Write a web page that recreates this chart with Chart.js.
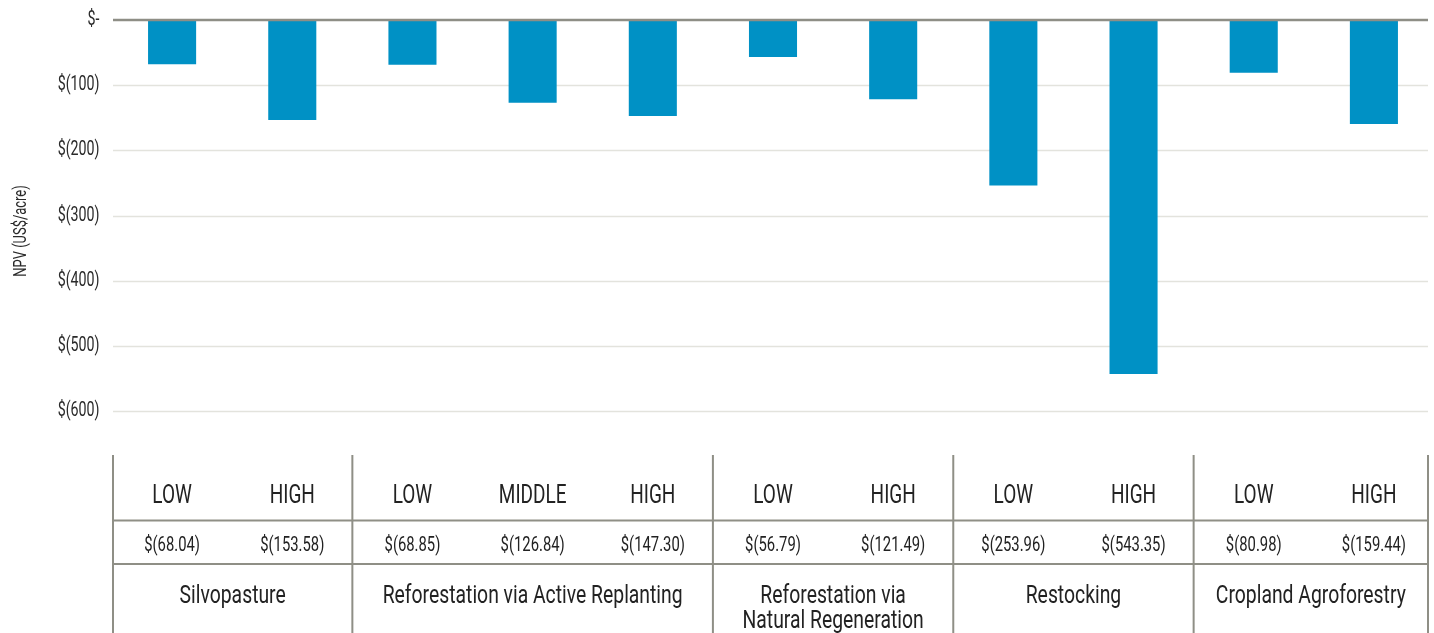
<!DOCTYPE html>
<html>
<head>
<meta charset="utf-8">
<script src="https://cdn.jsdelivr.net/npm/chart.js@4"></script>
<style>
  html, body { margin: 0; padding: 0; background: #ffffff; }
  #wrap { width: 1434px; height: 633px; position: relative; }
</style>
</head>
<body>
<div id="wrap"><canvas id="c" width="1434" height="633"></canvas></div>
<script>
// ---- data ----
const scenarios = ["LOW", "HIGH", "LOW", "MIDDLE", "HIGH", "LOW", "HIGH", "LOW", "HIGH", "LOW", "HIGH"];
const npvValues = [-68.04, -153.58, -68.85, -126.84, -147.30, -56.79, -121.49, -253.96, -543.35, -80.98, -159.44];
const groupNames = [["Silvopasture"], ["Reforestation via Active Replanting"], ["Reforestation via", "Natural Regeneration"], ["Restocking"], ["Cropland Agroforestry"]];
const groupSizes = [2, 3, 2, 2, 2];
const yTickValues = [0, -100, -200, -300, -400, -500, -600];
const yTickLabels = ["$-", "$(100)", "$(200)", "$(300)", "$(400)", "$(500)", "$(600)"];
const yTitle = "NPV (US$/acre)";

const FONT = "Roboto, 'Liberation Sans', sans-serif";
const SX = 0.73; // horizontal condensing to mimic the narrow typeface
const LINE = "#8f8f86";
const TEXT = "#222222";
const GRID_LEFT = 113, GRID_RIGHT = 1428;

function fmt(v) { return "$(" + Math.abs(v).toFixed(2) + ")"; }

function drawText(ctx, text, x, y, size, align, sx) {
  ctx.save();
  ctx.font = size + "px " + FONT;
  ctx.textAlign = align;
  ctx.textBaseline = "alphabetic";
  ctx.translate(x, y);
  ctx.scale(sx, 1);
  ctx.fillText(text, 0, 0);
  ctx.restore();
}

const gridPlugin = {
  id: "gridPlugin",
  beforeDatasetsDraw(chart) {
    const ctx = chart.ctx, y = chart.scales.y;
    ctx.save();
    ctx.strokeStyle = "#e3e3dd";
    ctx.lineWidth = 1.6;
    yTickValues.forEach(v => {
      if (v === 0) return;
      const py = Math.round(y.getPixelForValue(v)) + 0.5;
      ctx.beginPath(); ctx.moveTo(GRID_LEFT, py); ctx.lineTo(GRID_RIGHT, py); ctx.stroke();
    });
    ctx.restore();
  },
  afterDatasetsDraw(chart) {
    const ctx = chart.ctx, y = chart.scales.y;
    ctx.save();
    ctx.strokeStyle = "#8e8e86";
    ctx.lineWidth = 2.5;
    const py = y.getPixelForValue(0);
    ctx.beginPath(); ctx.moveTo(GRID_LEFT, py); ctx.lineTo(GRID_RIGHT, py); ctx.stroke();
    ctx.restore();
  }
};

const tablePlugin = {
  id: "tablePlugin",
  afterDraw(chart) {
    const ctx = chart.ctx;
    const x = chart.scales.x;
    const y = chart.scales.y;
    const half = (x.getPixelForValue(1) - x.getPixelForValue(0)) / 2;
    const top = 455, r1 = 520.5, r2 = 564, bottom = 633;

    ctx.save();
    ctx.fillStyle = "#2a2a2a";
    yTickValues.forEach((v, i) => {
      drawText(ctx, yTickLabels[i], 99.5, y.getPixelForValue(v) + 5, 19.5, "right", SX);
    });
    ctx.save();
    ctx.translate(26, 231);
    ctx.rotate(-Math.PI / 2);
    drawText(ctx, yTitle, 0, 0, 18.5, "center", 0.7);
    ctx.restore();
    ctx.restore();

    ctx.save();
    ctx.strokeStyle = LINE;
    ctx.lineWidth = 2;
    ctx.beginPath();
    ctx.moveTo(GRID_LEFT, r1); ctx.lineTo(GRID_RIGHT, r1);
    ctx.moveTo(GRID_LEFT, r2); ctx.lineTo(GRID_RIGHT, r2);
    ctx.stroke();
    let idx = 0;
    const bounds = [GRID_LEFT];
    groupSizes.forEach(n => { idx += n; bounds.push(Math.min(GRID_RIGHT, x.getPixelForValue(idx - 1) + half)); });
    ctx.beginPath();
    bounds.forEach(b => { ctx.moveTo(b, top); ctx.lineTo(b, bottom); });
    ctx.stroke();

    ctx.fillStyle = TEXT;
    scenarios.forEach((s, i) => drawText(ctx, s, x.getPixelForValue(i), 503, 26, "center", SX));
    npvValues.forEach((v, i) => drawText(ctx, fmt(v), x.getPixelForValue(i), 550.5, 19.5, "center", 0.76));
    groupNames.forEach((lines, g) => {
      const cx = (bounds[g] + bounds[g + 1]) / 2;
      lines.forEach((ln, k) => drawText(ctx, ln, cx, 603 + k * 24.5, 26.5, "center", SX));
    });
    ctx.restore();
  }
};

new Chart(document.getElementById("c"), {
  type: "bar",
  data: {
    labels: scenarios.map((s, i) => s + " " + i),
    datasets: [{
      data: npvValues,
      backgroundColor: "#0091c5",
      borderWidth: 0,
      barPercentage: 0.4,
      categoryPercentage: 1.0
    }]
  },
  options: {
    responsive: false,
    animation: false,
    devicePixelRatio: 1,
    layout: { padding: { top: 20, right: 0, bottom: 222, left: 0 } },
    plugins: { legend: { display: false }, tooltip: { enabled: false } },
    scales: {
      x: { display: false, offset: true },
      y: {
        min: -600, max: 0,
        afterFit(scale) { scale.width = 112; },
        afterBuildTicks(scale) { scale.ticks = yTickValues.map(v => ({ value: v })); },
        border: { display: false },
        grid: { display: false, drawTicks: false },
        ticks: { display: false }
      }
    }
  },
  plugins: [gridPlugin, tablePlugin]
});
</script>
</body>
</html>
